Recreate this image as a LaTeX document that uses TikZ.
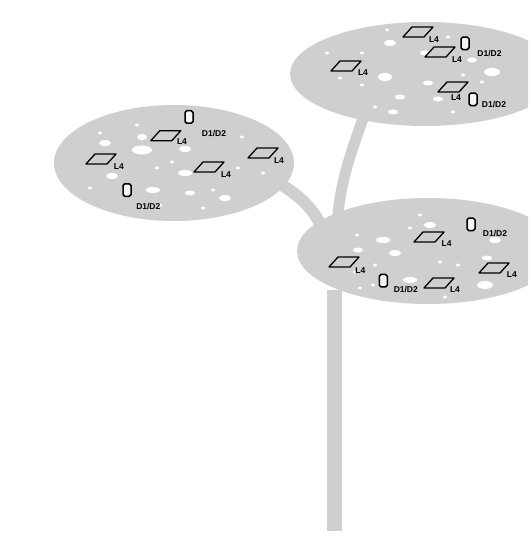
\documentclass[tikz,border=0pt]{standalone}
\usepackage{fontspec}
\setmainfont{Liberation Sans}
\begin{document}
\begin{tikzpicture}[x=1pt,y=-1pt]
\definecolor{disc}{RGB}{207,207,207}
\tikzset{
  plate/.style={fill=disc, draw=none},
  hole/.style={fill=white, draw=none},
  stem/.style={draw=disc, line cap=butt},
  lampline/.style={draw=black, line width=1.3pt, line join=round},
  phone/.style={draw=black, line width=1.5pt, fill=white!80!disc, rounded corners=1.8pt,
    minimum width=8pt, minimum height=12.5pt, inner sep=0pt},
  tag/.style={font=\fontsize{8.5}{9}\selectfont\bfseries, inner sep=0pt},
  pics/lamp/.style={code={
    \draw[lampline] (-15,5) -- (6,5) -- (15,-5) -- (-6,-5) -- cycle;
  }},
}
\useasboundingbox (0,0) rectangle (528,540);
\clip (0,0) rectangle (528,540);

% trunk and branches
\draw[stem, line width=15pt] (334.5,290) -- (334.5,531);
\draw[stem, line width=12pt] (270,178) .. controls (295,192) and (312,205) .. (322,228);
\draw[stem, line width=11pt] (366,110) .. controls (352,150) and (340,180) .. (337,225);

% plates
\fill[plate] (174,163) ellipse [x radius=120, y radius=58];
\fill[plate] (425,74) ellipse [x radius=135, y radius=52];
\fill[plate] (428,251) ellipse [x radius=131, y radius=53];

% holes in the left plate
\foreach \x/\y/\a/\b in {105/143/6/3, 142/137/5/3, 142/150/10/4.5, 100/133/2/1.5,
  137/125/2/1.5, 185/149/6/3, 185/173/7/3, 112/176/6/3, 153/190/7/3, 190/193/5/2.5,
  225/198/6/3, 238/168/2/1.5, 213/190/2/1.5, 172/162/2/1.5, 90/188/2/1.5,
  160/205/2/1.5, 242/137/2/1.5, 263/173/2/1.5, 203/208/2/1.5, 157/168/2/1.5}
  \fill[hole] (\x,\y) ellipse [x radius=\a, y radius=\b];

% holes in the upper plate
\foreach \x/\y/\a/\b in {390/43/6/3, 385/77/7/4, 425/53/5/2.5, 428/83/5/2.5,
  400/97/5/2.5, 393/112/5/2.5, 438/99/5/2.5, 492/72/8/4, 472/60/5/2.5,
  482/82/2/1.5, 362/85/2/1.5, 375/107/2/1.5, 340/78/2/1.5, 327/53/2/1.5,
  463/75/2/1.5, 448/37/2/1.5, 387/30/2/1.5, 362/53/2/1.5, 453/112/2/1.5}
  \fill[hole] (\x,\y) ellipse [x radius=\a, y radius=\b];

% holes in the lower plate
\foreach \x/\y/\a/\b in {430/225/6/3, 383/240/7/3, 395/253/6/3, 358/250/5/2.5,
  495/240/6/3, 487/258/5/2.5, 485/285/8/4, 410/280/7/3, 357/235/2/1.5,
  440/262/2/1.5, 458/265/2/1.5, 375/265/2/1.5, 360/288/2/1.5, 373/285/2/1.5,
  445/297/2/1.5, 420/215/2/1.5, 410/228/2/1.5, 355/272/2/1.5}
  \fill[hole] (\x,\y) ellipse [x radius=\a, y radius=\b];

% left plate devices
\node[phone] (pa) at (189,117) {};
\node[tag] (pat) at (214,133.3) {D1/D2};
\pic (la) at (165.8,135.7) {lamp};
\node[tag] (lat) at (182,142) {L4};
\pic (lb) at (101,159) {lamp};
\node[tag] (lbt) at (118.8,167) {L4};
\pic (lc) at (209,167) {lamp};
\node[tag] (lct) at (226,175) {L4};
\pic (ld) at (263,153) {lamp};
\node[tag] (ldt) at (279,161) {L4};
\node[phone] (pb) at (127,190) {};
\node[tag] (pbt) at (148.3,206.7) {D1/D2};

% upper plate devices
\pic (le) at (418,32) {lamp};
\node[tag] (let) at (434,39.7) {L4};
\node[phone] (pc) at (465,43.3) {};
\node[tag] (pct) at (489.5,53.3) {D1/D2};
\pic (lf) at (440,52) {lamp};
\node[tag] (lft) at (457,60) {L4};
\pic (lg) at (346,66) {lamp};
\node[tag] (lgt) at (363,73) {L4};
\pic (lh) at (453,87) {lamp};
\node[tag] (lht) at (456,98) {L4};
\node[phone] (pd) at (473,99.3) {};
\node[tag] (pdt) at (494,105) {D1/D2};

% lower plate devices
\node[phone] (pe) at (471,224.3) {};
\node[tag] (pet) at (495,233.3) {D1/D2};
\pic (li) at (429,237) {lamp};
\node[tag] (lit) at (446.7,243.3) {L4};
\pic (lj) at (344,262) {lamp};
\node[tag] (ljt) at (360.3,270.3) {L4};
\node[phone] (pf) at (383.3,280.7) {};
\node[tag] (pft) at (405.8,290) {D1/D2};
\pic (lk) at (439,283) {lamp};
\node[tag] (lkt) at (455,290) {L4};
\pic (ll) at (494,268) {lamp};
\node[tag] (llt) at (511.8,275) {L4};
\end{tikzpicture}
\end{document}
